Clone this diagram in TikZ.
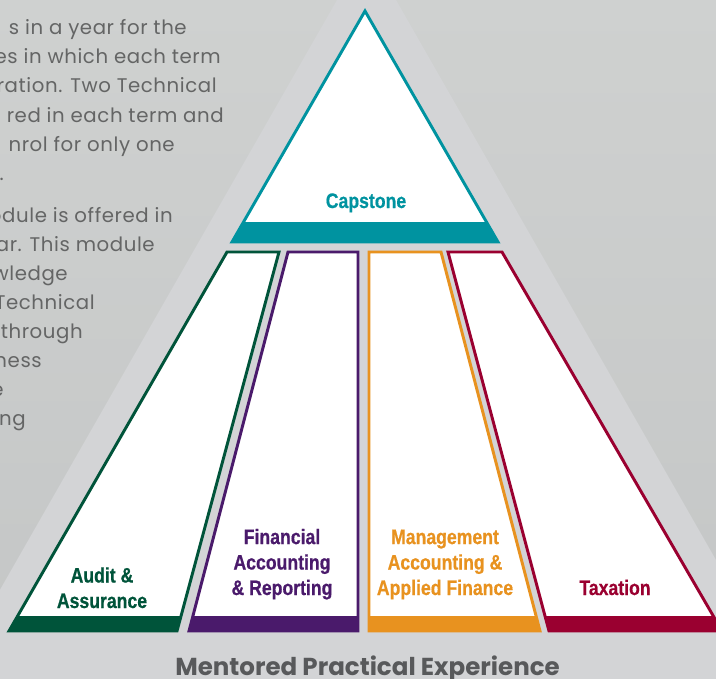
\documentclass[tikz,border=0pt]{standalone}
\usepackage{fontspec}
\setmainfont{Liberation Sans}
\newfontfamily\condfont[FakeStretch=0.84,FakeBold=0.6]{Liberation Sans}
\newfontfamily\popfont{Poppins}
\newfontfamily\bodyfont[LetterSpace=3]{Poppins}
\definecolor{bgtop}{HTML}{CFD1D0}
\definecolor{bgbot}{HTML}{C4C6C6}
\definecolor{lightband}{HTML}{D3D4D6}
\definecolor{txtgray}{HTML}{646565}
\definecolor{capgray}{HTML}{58595B}
\definecolor{capteal}{HTML}{0093A0}
\definecolor{audgreen}{HTML}{00543A}
\definecolor{finpurple}{HTML}{4A1A6B}
\definecolor{mgmtorange}{HTML}{E8921F}
\definecolor{taxred}{HTML}{9A0030}
\begin{document}
\begin{tikzpicture}[x=0.75pt,y=-0.75pt,
  bodytext/.style={anchor=base east,inner sep=0pt,text=txtgray,font=\bodyfont\fontsize{14.8}{17}\selectfont},
  pillarlabel/.style={anchor=base,inner sep=0pt,align=center,font=\condfont\bfseries\fontsize{15.75}{19.1}\selectfont},
  pillarline/.style={line width=2.2pt,line join=miter},
  footlabel/.style={anchor=base,inner sep=0pt,text=capgray,font=\popfont\bfseries\fontsize{18.4}{20}\selectfont}]
\useasboundingbox (0,0) rectangle (716,678);
\begin{scope}
\clip (0,0) rectangle (716,678);
% background
\shade[top color=bgtop,bottom color=bgbot] (0,0) rectangle (716,678);
\fill[lightband] (366.5,-51.7) -- (-63,700) -- (796,700) -- cycle;
\fill[lightband] (0,632) rectangle (716,678);
% left body text (cut by the picture's edge)
\node[bodytext] (t1) at (187,34) {s in a year for the};
\node[bodytext] (t2) at (221,63) {es in which each term};
\node[bodytext] (t3) at (217,92) {ration. Two Technical};
\node[bodytext] (t4) at (224,122) {red in each term and};
\node[bodytext] (t5) at (175,151) {nrol for only one};
\node[bodytext] (t6) at (4,180) {.};
\node[bodytext] (t7) at (173,222) {odule is offered in};
\node[bodytext] (t8) at (155,251) {ar. This module};
\node[bodytext] (t9) at (68,280) {wledge};
\node[bodytext] (t10) at (95,309) {Technical};
\node[bodytext] (t11) at (83,338) {through};
\node[bodytext] (t12) at (42,367) {ness};
\node[bodytext] (t13) at (4,396) {e};
\node[bodytext] (t14) at (26,425) {ng};
% capstone
\def\cappath{(365,11) -- (498,242) -- (232,242) -- cycle}
\fill[white] \cappath;
\begin{scope}\clip \cappath; \fill[capteal] (200,222) rectangle (530,250);\end{scope}
\draw[pillarline,capteal] \cappath;
% pillars
\def\audpath{(227,252) -- (279,252) -- (177,631) -- (9,631) -- cycle}
\def\finpath{(288,252) -- (358,252) -- (358,631) -- (189,631) -- cycle}
\def\mgtpath{(369,252) -- (441,252) -- (540,631) -- (369,631) -- cycle}
\def\taxpath{(448,252) -- (502,252) -- (722,631) -- (549,631) -- cycle}
\foreach \p/\c in {\audpath/audgreen,\finpath/finpurple,\mgtpath/mgmtorange,\taxpath/taxred}{
  \fill[white] \p;
  \begin{scope}\clip \p; \fill[\c] (0,616) rectangle (730,640);\end{scope}
  \draw[pillarline,\c] \p;
}
\end{scope}
% labels (base anchor = baseline of the last line)
\node[pillarlabel,text=capteal] (cap) at (366,208) {Capstone};
\node[pillarlabel,text=audgreen] (aud) at (102,608) {Audit \&\\Assurance};
\node[pillarlabel,text=finpurple] (fin) at (282,595) {Financial\\Accounting\\\& Reporting};
\node[pillarlabel,text=mgmtorange] (mgt) at (445,595) {Management\\Accounting \&\\Applied Finance};
\node[pillarlabel,text=taxred] (tax) at (615,595) {Taxation};
\node[footlabel] (mpe) at (367.5,675) {Mentored Practical Experience};
\end{tikzpicture}
\end{document}
